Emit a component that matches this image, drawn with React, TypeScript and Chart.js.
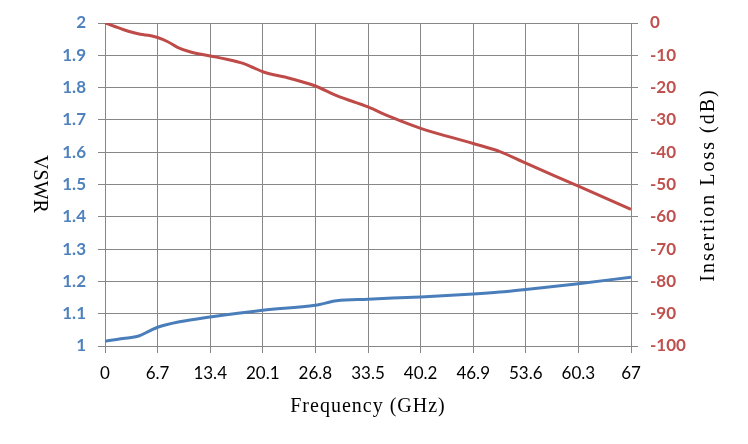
import { useEffect, useRef } from 'react';
import { Chart, registerables } from 'chart.js';

Chart.register(...registerables);

// frequency ticks (GHz)
const freqTicks = [0, 6.7, 13.4, 20.1, 26.8, 33.5, 40.2, 46.9, 53.6, 60.3, 67];

// VSWR curve (blue, left axis)
const vswrFreq = [0, 2.3, 4.3, 5.7, 6.7, 9.5, 13.4, 20.1, 26.8, 29.5, 33.5, 40.2, 46.9, 50.3, 53.6, 60.3, 67];
const vswrValues = [1.015, 1.023, 1.031, 1.047, 1.058, 1.075, 1.09, 1.111, 1.126, 1.14, 1.145, 1.152, 1.161, 1.167, 1.175, 1.193, 1.213];

// insertion loss curve (red, right axis)
const lossFreq = [0, 2.3, 4.5, 5.7, 6.7, 8.0, 9.3, 10.8, 13.4, 15.5, 17.6, 18.9, 20.1, 23.5, 26.8, 29.5, 33.5, 36.3, 40.2, 46.9, 50.3, 53.6, 60.3, 67];
const lossValues = [0, -2, -3.5, -3.9, -4.5, -5.8, -7.6, -8.9, -10.2, -11.2, -12.5, -13.8, -15.1, -17.1, -19.5, -22.5, -26, -29, -32.6, -37.3, -39.8, -43.4, -50.5, -57.7];

const BLUE = '#4F81BD';
const RED = '#C0504D';
const GRID = '#878787';

const axisTitles = {
  id: 'axisTitles',
  afterDraw(chart: Chart) {
    const ctx: any = chart.ctx;
    ctx.save();
    ctx.fillStyle = '#000';
    ctx.font = '20px "Liberation Serif"';
    ctx.textAlign = 'center';
    ctx.textBaseline = 'alphabetic';
    ctx.letterSpacing = '1px';
    ctx.fillText('Frequency (GHz)', 368, 412);

    ctx.textBaseline = 'middle';
    ctx.letterSpacing = '0px';
    ctx.save();
    ctx.translate(39, 184);
    ctx.rotate(Math.PI / 2);
    ctx.fillText('VSWR', 0, 0);
    ctx.restore();

    ctx.letterSpacing = '2px';
    ctx.save();
    ctx.translate(709, 185);
    ctx.rotate(-Math.PI / 2);
    ctx.fillText('Insertion Loss (dB)', 0, 0);
    ctx.restore();
    ctx.restore();
  },
};

export default function App() {
  const chartRef = useRef<HTMLCanvasElement>(null);

  useEffect(() => {
    if (!chartRef.current) return;

    const chart = new Chart(chartRef.current, {
      type: 'line',
      data: {
        datasets: [
          {
            label: 'VSWR',
            data: vswrFreq.map((f, i) => ({ x: f, y: vswrValues[i] })),
            borderColor: '#4A7EBB',
            borderWidth: 3,
            pointRadius: 0,
            cubicInterpolationMode: 'monotone',
            yAxisID: 'y',
          },
          {
            label: 'Insertion Loss',
            data: lossFreq.map((f, i) => ({ x: f, y: lossValues[i] })),
            borderColor: '#BE4B48',
            borderWidth: 3,
            pointRadius: 0,
            cubicInterpolationMode: 'monotone',
            yAxisID: 'y2',
          },
        ],
      },
      options: {
        animation: false,
        responsive: true,
        maintainAspectRatio: false,
        layout: { padding: { top: 23, left: 0, right: 0, bottom: 0 } },
        plugins: {
          legend: { display: false },
          tooltip: { enabled: false },
        },
        scales: {
          x: {
            type: 'linear',
            min: 0,
            max: 67,
            afterBuildTicks: (scale: any) => {
              scale.ticks = freqTicks.map((v) => ({ value: v }));
            },
            afterFit: (scale: any) => {
              scale.height = 98;
            },
            grid: { color: GRID, tickLength: 7, tickColor: GRID },
            border: { color: GRID },
            ticks: {
              padding: 10,
              color: '#000',
              font: { family: 'Lato', size: 17 },
              maxRotation: 0,
              autoSkip: false,
              callback: (v: any) => String(Math.round(Number(v) * 10) / 10),
            },
          },
          y: {
            position: 'left',
            min: 1,
            max: 2,
            afterFit: (scale: any) => {
              scale.width = 105;
            },
            grid: { color: GRID, tickLength: 7, tickColor: GRID },
            border: { color: GRID },
            ticks: {
              stepSize: 0.1,
              padding: 12,
              color: BLUE,
              font: { family: 'Lato', size: 17, weight: 'bold' },
              callback: (v: any) => String(Math.round(Number(v) * 10) / 10),
            },
          },
          y2: {
            position: 'right',
            min: -100,
            max: 0,
            afterFit: (scale: any) => {
              scale.width = 117;
            },
            grid: { drawOnChartArea: false, color: GRID, tickLength: 7, tickColor: GRID },
            border: { color: GRID },
            ticks: {
              stepSize: 10,
              padding: 12,
              color: RED,
              font: { family: 'Lato', size: 17, weight: 'bold' },
              callback: (v: any) => String(Math.round(Number(v))),
            },
          },
        },
      },
      plugins: [axisTitles],
    });

    return () => chart.destroy();
  }, []);

  return (
    <div style={{ position: 'absolute', left: 0, top: 0, width: 748, height: 444, background: '#fff' }}>
      <canvas ref={chartRef} />
    </div>
  );
}
